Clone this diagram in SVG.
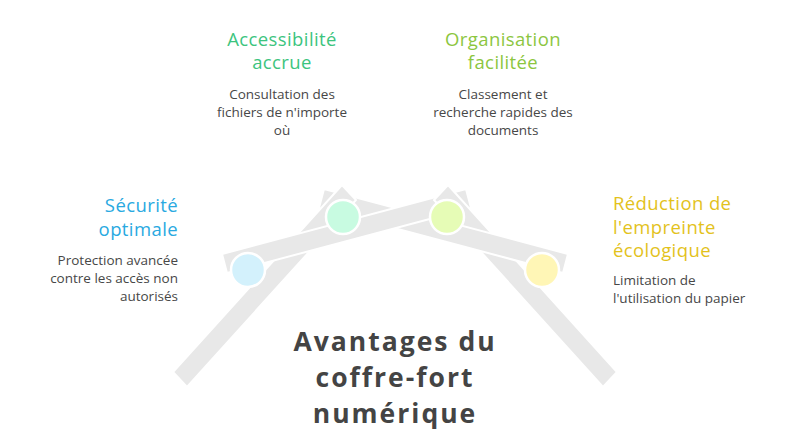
<svg xmlns="http://www.w3.org/2000/svg" width="799" height="433" viewBox="0 0 799 433">
<style>
.bar{fill:#e8e8e8;stroke:#ffffff;stroke-width:2;stroke-linejoin:miter}
.dot{stroke:#ffffff;stroke-width:2.5}
.h{font-family:"Open Sans",Lato,sans-serif;font-size:18.5px;letter-spacing:0.4px}
.b{font-family:"Open Sans",Lato,sans-serif;font-size:13.5px;fill:#474747}
.c{text-anchor:middle}
.r{text-anchor:end}
.t{font-family:"Open Sans",Lato,sans-serif;font-size:26.5px;font-weight:bold;fill:#444444;text-anchor:middle;letter-spacing:2px}
</style>
<defs>
<clipPath id="qclip"><rect x="445" y="217" width="200" height="100"/></clipPath>
<polygon id="qbar" points="568,254 324,189 319,208 563,273"/>
</defs>
<rect width="799" height="433" fill="#ffffff"/>
<g id="connectors">
<use href="#qbar" class="bar"/>
<polygon class="bar" points="173,372 342,185 356,200 187,387"/>
<polygon class="bar" points="222,254 466,189 471,208 227,273"/>
<polygon class="bar" points="617,372 448,185 434,200 603,387"/>
<use href="#qbar" class="bar" clip-path="url(#qclip)"/>
</g>
<g id="securite">
<circle class="dot" cx="248" cy="270" r="17" fill="#d3f1fc"/>
<text class="h r" x="178" y="212" fill="#29a9e1">Sécurité</text>
<text class="h r" x="178" y="236" fill="#29a9e1">optimale</text>
<text class="b r" x="178" y="265">Protection avancée</text>
<text class="b r" x="178" y="283">contre les accès non</text>
<text class="b r" x="178" y="301">autorisés</text>
</g>
<g id="accessibilite">
<circle class="dot" cx="343" cy="217" r="17" fill="#c8fbe1"/>
<text class="h c" x="282" y="46" fill="#3cc47e">Accessibilité</text>
<text class="h c" x="282" y="69" fill="#3cc47e">accrue</text>
<text class="b c" x="282" y="99">Consultation des</text>
<text class="b c" x="282" y="117">fichiers de n'importe</text>
<text class="b c" x="282" y="135">où</text>
</g>
<g id="organisation">
<circle class="dot" cx="447" cy="217" r="17" fill="#e6fcb6"/>
<text class="h c" x="503" y="46" fill="#8cc63f">Organisation</text>
<text class="h c" x="503" y="69" fill="#8cc63f">facilitée</text>
<text class="b c" x="503" y="99">Classement et</text>
<text class="b c" x="503" y="117">recherche rapides des</text>
<text class="b c" x="503" y="135">documents</text>
</g>
<g id="reduction">
<circle class="dot" cx="542" cy="270" r="17" fill="#fff6b6"/>
<text class="h" x="613" y="210" fill="#e3c21c">Réduction de</text>
<text class="h" x="613" y="234" fill="#e3c21c">l'empreinte</text>
<text class="h" x="613" y="257" fill="#e3c21c">écologique</text>
<text class="b" x="613" y="285">Limitation de</text>
<text class="b" x="613" y="303">l'utilisation du papier</text>
</g>
<g id="titre">
<text class="t" x="395" y="351">Avantages du</text>
<text class="t" x="395" y="387">coffre-fort</text>
<text class="t" x="395" y="423">numérique</text>
</g>
</svg>
